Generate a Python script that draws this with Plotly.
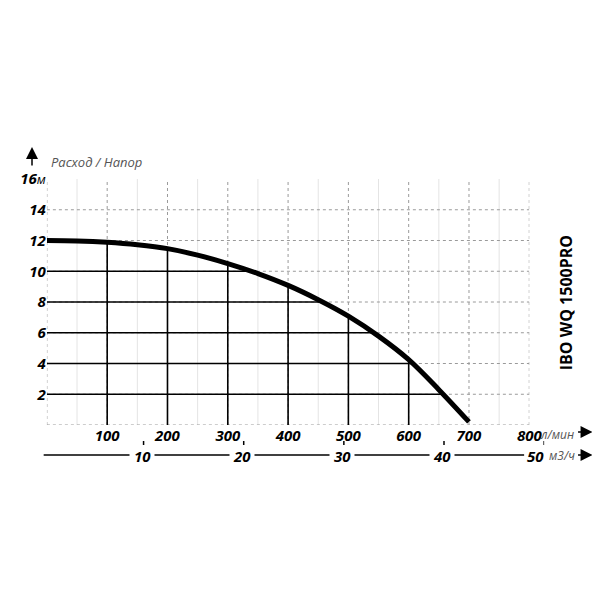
import numpy as np
import plotly.graph_objects as go

# Расход (л/мин) / Напор (м)
flow = [0, 50, 100, 150, 200, 250, 300, 350, 400, 450, 500, 550, 600, 650, 700]
head = [12.0, 11.97, 11.88, 11.72, 11.47, 11.05, 10.5, 9.85, 9.08, 8.15, 7.08, 5.78, 4.25, 2.3, 0.2]

x_ticks = [100, 200, 300, 400, 500, 600, 700, 800]
y_ticks = [2, 4, 6, 8, 10, 12, 14, 16]
y_text = ['2', '4', '6', '8', '10', '12', '14',
          "16<span style='font-size:13px;font-weight:normal'>м</span>"]
minor_x = [50, 150, 250, 350, 450, 550, 650, 750]
m3h_ticks = [10, 20, 30, 40, 50]

title_txt = 'IBO WQ 1500PRO'
axis_txt = 'Расход / Напор'

FONT = 'Open Sans'
fig = go.Figure()

def segs(pairs):
    xs, ys = [], []
    for (x0, y0), (x1, y1) in pairs:
        xs += [x0, x1, None]
        ys += [y0, y1, None]
    return xs, ys

# light minor lines
mx, my = segs([((v, 0), (v, 16)) for v in minor_x])
fig.add_trace(go.Scatter(x=mx, y=my, mode='lines', line=dict(color='#e4e4e4', width=1),
                         hoverinfo='skip', showlegend=False))

# dotted grid
dv = [((v, 0), (v, 16)) for v in [0] + x_ticks]
dh = [((0, h), (800, h)) for h in [0] + y_ticks[:-1]]
dx, dy = segs(dv + dh)
fig.add_trace(go.Scatter(x=dx, y=dy, mode='lines', line=dict(color='#9a9a9a', width=1, dash='dot'),
                         hoverinfo='skip', showlegend=False))

# solid grid under the curve
fr, hr = flow[::-1], head[::-1]
sv = [((v, 0), (v, float(np.interp(v, flow, head)))) for v in x_ticks if v < flow[-1]]
sh = [((0, h), (float(np.interp(h, hr, fr)), h)) for h in y_ticks if h < head[0]]
sx, sy = segs(sv + sh)
fig.add_trace(go.Scatter(x=sx, y=sy, mode='lines', line=dict(color='black', width=1.6),
                         hoverinfo='skip', showlegend=False))

# curve
fig.add_trace(go.Scatter(x=flow, y=head, mode='lines', line=dict(color='black', width=5, shape='spline'),
                         hoverinfo='skip', showlegend=False))

# second scale (м3/ч) carrier
fig.add_trace(go.Scatter(x=m3h_ticks, y=[0] * len(m3h_ticks), xaxis='x2', yaxis='y', mode='markers',
                         marker=dict(opacity=0), hoverinfo='skip', showlegend=False))

tickfont = dict(family=FONT, size=15, color='black', weight='bold', style='italic')

# page body has an 8px margin, so the margins are shifted by that
fig.update_layout(
    width=600, height=600,
    margin=dict(l=22, r=48, t=162, b=138),
    paper_bgcolor='white', plot_bgcolor='rgba(0,0,0,0)',
    xaxis=dict(domain=[12 / 530, 499 / 530], range=[0, 800], tickvals=x_ticks,
               ticktext=[str(v) for v in x_ticks], showgrid=False, zeroline=False,
               showline=False, ticks='', tickfont=tickfont, anchor='y'),
    xaxis2=dict(domain=[8.5 / 530, 514 / 530], range=[0, 50], visible=False, anchor='y'),
    yaxis=dict(domain=[45 / 300, 291 / 300], range=[0, 16], tickvals=y_ticks, ticktext=y_text,
               showgrid=False, zeroline=False, showline=False, ticks='', tickfont=tickfont),
)

shapes = []
# black square at origin
shapes.append(dict(type='rect', xref='x', yref='y', xsizemode='pixel', ysizemode='pixel',
                   xanchor=0, yanchor=0, x0=-12, x1=-1, y0=-12, y1=0,
                   fillcolor='black', line=dict(width=0)))
# м3/ч line and ticks
shapes.append(dict(type='line', xref='x2', yref='paper', x0=0, x1=48, y0=0.05, y1=0.05,
                   line=dict(color='black', width=1.5)))
for q in m3h_ticks:
    shapes.append(dict(type='line', xref='x2', yref='paper', x0=q, x1=q, y0=0.083, y1=0.097,
                       line=dict(color='black', width=1.5)))
fig.update_layout(shapes=shapes)

ann = []
for q in m3h_ticks:
    last = q == m3h_ticks[-1]
    ann.append(dict(x=q, y=0.047, xref='x2', yref='paper',
                    text=str(q) if last else '\u00a0' + str(q) + '\u00a0',
                    showarrow=False, bgcolor='white', borderpad=0, xshift=1 if last else -2,
                    xanchor='right' if last else 'center', yanchor='middle', font=tickfont))
small = dict(family=FONT, size=12, color='#555', style='italic')
ann.append(dict(x=0.9585, y=0.117, xref='paper', yref='paper', text='л/мин', xanchor='left',
                yanchor='middle', showarrow=False, font=small))
ann.append(dict(x=0.9755, y=0.047, xref='paper', yref='paper', text='м3/ч', xanchor='left',
                yanchor='middle', showarrow=False, font=small))
ann.append(dict(x=0.0265, y=1.027, xref='paper', yref='paper', text=axis_txt, xanchor='left',
                yanchor='middle', showarrow=False,
                font=dict(family=FONT, size=13, color='#555', style='italic')))
ann.append(dict(x=1.012, y=0.557, xref='paper', yref='paper', text=title_txt, textangle=-90,
                xanchor='center', yanchor='middle', showarrow=False,
                font=dict(family=FONT, size=16, color='black', weight='bold')))
# arrows
for (ax_, ay_, px, py) in [(0, 20, -0.0057, 1.077), (-16, 0, 1.062, 0.127), (-16, 0, 1.062, 0.05)]:
    ann.append(dict(x=px, y=py, xref='paper', yref='paper', ax=ax_, ay=ay_, text='',
                    showarrow=True, arrowhead=2, arrowsize=1.6, arrowwidth=1.5, arrowcolor='black'))
fig.update_layout(annotations=ann)

fig.write_html("out.html")
